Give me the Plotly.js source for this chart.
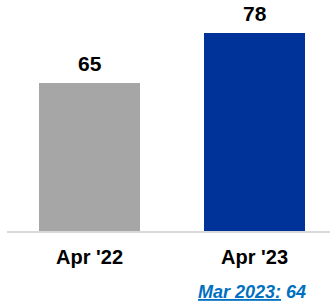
<!DOCTYPE html>
<html>
<head>
<meta charset="utf-8">
<script src="https://cdn.plot.ly/plotly-3.0.1.min.js"></script>
<style>html,body{margin:0;padding:0;background:#fff;}#chart{width:330px;height:302px;}</style>
</head>
<body>
<div id="chart"></div>
<script>
const categories = ["Apr '22", "Apr '23"];
const values = [65, 78];
const barColors = ["#A6A6A6", "#003399"];
const noteLabel = "Mar 2023:";
const noteValue = 64;

const font = 'Liberation Sans, Arial, sans-serif';

const trace = {
  type: 'bar',
  x: categories,
  y: values,
  marker: {color: barColors},
  width: 0.612,
  hoverinfo: 'none'
};

const valueLabels = categories.map((c, i) => ({
  xref: 'x', yref: 'y', x: c, y: values[i],
  xanchor: 'center', yanchor: 'bottom', yshift: 6, showarrow: false,
  text: '<b>' + values[i] + '</b>',
  font: {family: font, size: 21, color: '#000'}
}));

const layout = {
  width: 330, height: 302,
  margin: {l: 7, r: 0, t: 0, b: 71, pad: 0},
  paper_bgcolor: '#fff', plot_bgcolor: '#fff',
  showlegend: false,
  bargap: 0,
  xaxis: {
    type: 'category',
    range: [-0.5, 1.4576],
    showgrid: false, zeroline: false,
    showline: true, linecolor: '#D9D9D9', linewidth: 2,
    ticks: '', ticklabelstandoff: 7,
    tickfont: {family: font, size: 20, color: '#000', weight: 'bold'}
  },
  yaxis: {range: [26.6, 86.6], visible: false, showgrid: false, zeroline: false},
  annotations: valueLabels.concat([{
    xref: 'paper', yref: 'paper', x: 0.932, y: -0.265,
    xanchor: 'right', yanchor: 'middle', showarrow: false,
    text: '<i><b><u>' + noteLabel + '</u> ' + noteValue + '</b></i>',
    font: {family: font, size: 18, color: '#0070C0'}
  }])
};

Plotly.newPlot('chart', [trace], layout, {displayModeBar: false, staticPlot: true});
</script>
</body>
</html>
